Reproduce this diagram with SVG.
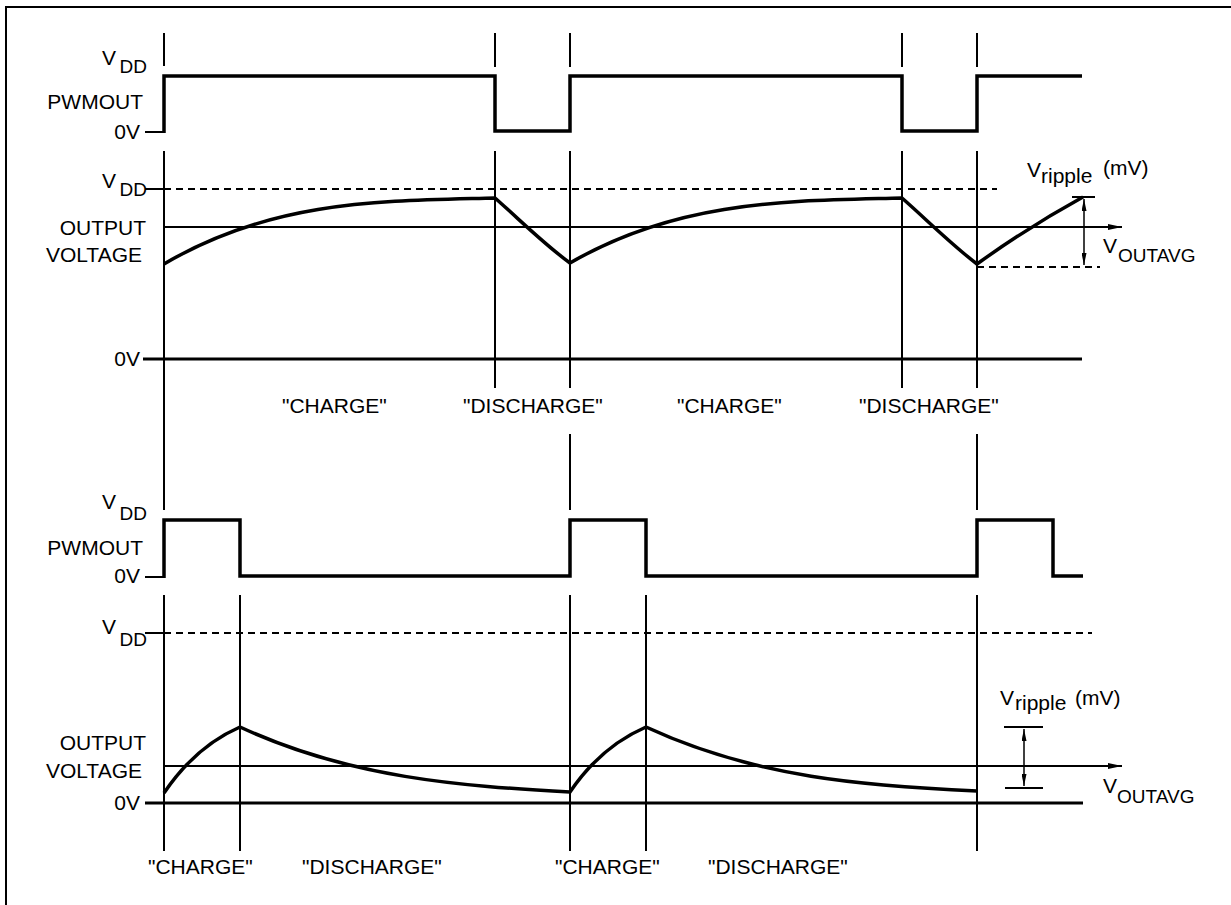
<svg xmlns="http://www.w3.org/2000/svg" width="1231" height="905" viewBox="0 0 1231 905">
<defs>
<style>
.t{stroke:#000;stroke-width:2;fill:none}
.a{stroke:#000;stroke-width:1.5;fill:none}
.k{stroke:#000;stroke-width:3.5;fill:none;stroke-linejoin:miter}
.b{stroke:#000;stroke-width:3;fill:none}
.d{stroke:#000;stroke-width:2;fill:none;stroke-dasharray:7 5}
text{font-family:"Liberation Sans",Arial,sans-serif;font-size:21px;fill:#000}
.e{text-anchor:end}
.s{font-size:19px}
</style>
<marker id="ah" viewBox="0 0 14 6" refX="14" refY="3" markerWidth="14" markerHeight="6" markerUnits="userSpaceOnUse" orient="auto-start-reverse"><path d="M0,0 L14,3 L0,6 z" fill="#000"/></marker>
<marker id="ah2" viewBox="0 0 12 5" refX="12" refY="2.5" markerWidth="12" markerHeight="5" markerUnits="userSpaceOnUse" orient="auto-start-reverse"><path d="M0,0 L12,2.5 L0,5 z" fill="#000"/></marker>
</defs>
<rect width="1231" height="905" fill="#fff"/>
<path id="frame" class="t" d="M6,905 V7 H1231"/>

<g id="timing-lines">
<path class="t" d="M164,33 V66 M495,33 V67 M570,33 V67 M902,33 V67 M977,33 V67 M164,151 V510 M495,151 V388 M570,151 V388 M570,434 V510 M902,151 V388 M977,151 V388 M977,434 V510 M164,595 V851 M240,595 V851 M570,595 V851 M646,595 V851 M977,595 V851"/>
</g>

<g id="pwm-top">
<path class="t" d="M145,132 H164"/>
<path class="k" d="M164,133 V76 H495 V131 H570 V76 H902 V131 H977 V76 H1082"/>
<text x="116" y="65" class="e">V</text><text x="147" y="73" class="e s">DD</text>
<text x="143" y="109" class="e">PWMOUT</text>
<text x="140" y="139" class="e">0V</text>
</g>

<g id="output-top">
<path class="t" d="M145,189 H164"/>
<path class="d" d="M164,189 H997"/>
<path class="t" d="M164,227 H1122" marker-end="url(#ah)"/>
<path class="b" d="M143,359 H1082"/>
<path class="k" d="M164,264 C274,199 385,201 495,198 C520,220 545,245 570,263 C680,199 792,201 902,198 C927,220 952,245 977,264 Q1030,226 1083,197"/>
<path class="t" d="M1072,197 H1095"/>
<path class="d" d="M977,267 H1100"/>
<path class="a" d="M1084,199 V265" marker-start="url(#ah2)" marker-end="url(#ah2)"/>
<text x="116" y="188" class="e">V</text><text x="147" y="196" class="e s">DD</text>
<text x="146" y="235" class="e">OUTPUT</text>
<text x="142" y="262" class="e">VOLTAGE</text>
<text x="140" y="366" class="e">0V</text>
<text x="1027" y="177">V</text><text x="1041" y="183">ripple</text><text x="1103" y="175">(mV)</text>
<text x="1103" y="253">V</text><text x="1118" y="262" class="s">OUTAVG</text>
<text x="282" y="413">"CHARGE"</text>
<text x="463" y="413">"DISCHARGE"</text>
<text x="677" y="413">"CHARGE"</text>
<text x="859" y="413">"DISCHARGE"</text>
</g>

<g id="pwm-bottom">
<path class="t" d="M145,577 H164"/>
<path class="k" d="M164,578 V520 H240 V576 H570 V520 H646 V576 H977 V520 H1053 V576 H1083"/>
<text x="116" y="509" class="e">V</text><text x="147" y="520" class="e s">DD</text>
<text x="143" y="555" class="e">PWMOUT</text>
<text x="140" y="583" class="e">0V</text>
</g>

<g id="output-bottom">
<path class="t" d="M145,633 H164"/>
<path class="d" d="M164,633 H1092"/>
<path class="t" d="M164,766 H1122" marker-end="url(#ah)"/>
<path class="b" d="M145,803 H1083"/>
<path class="k" d="M164,793 C185,762 210,740 240,727 C350,778 460,786 570,792 C591,761 616,740 646,727 C756,778 866,786 977,791"/>
<path class="t" d="M1004,727 H1043 M1005,788 H1043"/>
<path class="a" d="M1024,729 V786" marker-start="url(#ah2)" marker-end="url(#ah2)"/>
<text x="116" y="634" class="e">V</text><text x="147" y="646" class="e s">DD</text>
<text x="146" y="750" class="e">OUTPUT</text>
<text x="142" y="778" class="e">VOLTAGE</text>
<text x="140" y="810" class="e">0V</text>
<text x="1000" y="705">V</text><text x="1015" y="710">ripple</text><text x="1075" y="705">(mV)</text>
<text x="1103" y="793">V</text><text x="1117" y="803" class="s">OUTAVG</text>
<text x="148" y="874">"CHARGE"</text>
<text x="302" y="874">"DISCHARGE"</text>
<text x="555" y="874">"CHARGE"</text>
<text x="708" y="874">"DISCHARGE"</text>
</g>
</svg>
